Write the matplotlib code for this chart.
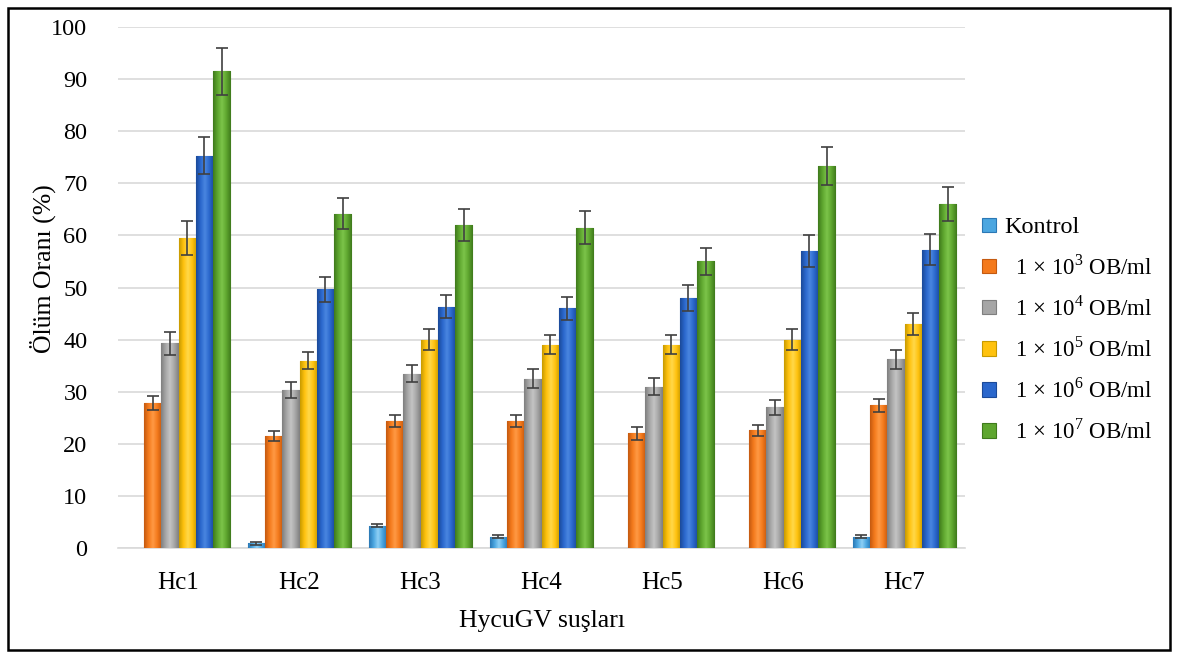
import numpy as np
import matplotlib.pyplot as plt
from matplotlib.patches import Rectangle
from matplotlib.colors import LinearSegmentedColormap

plt.rcParams['font.family'] = ['Liberation Serif', 'DejaVu Serif']
plt.rcParams['mathtext.fontset'] = 'custom'
plt.rcParams['mathtext.rm'] = 'Liberation Serif'

# strains on the x axis
strains = ['Hc1', 'Hc2', 'Hc3', 'Hc4', 'Hc5', 'Hc6', 'Hc7']

# mortality (%) per dose, nan = no bar
kontrol = [np.nan, 0.9, 4.3, 2.2, np.nan, np.nan, 2.2]
d3 = [27.8, 21.5, 24.4, 24.4, 22.0, 22.6, 27.4]
d4 = [39.3, 30.3, 33.5, 32.5, 31.0, 27.0, 36.2]
d5 = [59.5, 36.0, 40.0, 39.0, 39.0, 40.0, 43.0]
d6 = [75.3, 49.7, 46.3, 46.0, 48.0, 57.0, 57.3]
d7 = [91.5, 64.2, 62.0, 61.5, 55.0, 73.3, 66.0]

# error (+/-)
kontrol_err = [0, 0.3, 0.3, 0.3, 0, 0, 0.3]
d3_err = [1.3, 1.0, 1.1, 1.1, 1.2, 1.1, 1.2]
d4_err = [2.2, 1.5, 1.7, 1.8, 1.7, 1.4, 1.8]
d5_err = [3.2, 1.6, 2.0, 1.8, 1.8, 2.0, 2.2]
d6_err = [3.6, 2.4, 2.2, 2.2, 2.5, 3.0, 3.0]
d7_err = [4.5, 3.0, 3.0, 3.2, 2.5, 3.7, 3.2]

labels = ['Kontrol',
          r'  1 × 10$^{\mathrm{3}}$ OB/ml',
          r'  1 × 10$^{\mathrm{4}}$ OB/ml',
          r'  1 × 10$^{\mathrm{5}}$ OB/ml',
          r'  1 × 10$^{\mathrm{6}}$ OB/ml',
          r'  1 × 10$^{\mathrm{7}}$ OB/ml']
colors = ['#4ba6e0', '#f47a1c', '#a6a6a6', '#ffc20e', '#2a67cc', '#5ea62f']
lights = ['#8fd0f5', '#ff9a45', '#c4c4c4', '#ffd84a', '#4a86e0', '#7cc44a']
edges = ['#2b78b5', '#c45a10', '#7f7f7f', '#c79a00', '#1b4a99', '#3f7a1c']

series = [kontrol, d3, d4, d5, d6, d7]
errs = [kontrol_err, d3_err, d4_err, d5_err, d6_err, d7_err]

fig = plt.figure(figsize=(11.78, 6.58), dpi=100)
ax = fig.add_axes([0.1002, 0.167, 0.719, 0.792])

x = np.arange(len(strains))
w = 0.143
grad = np.linspace(0, 1, 64).reshape(1, -1)
for i, (vals, e) in enumerate(zip(series, errs)):
    pos = x + (i - 2.5) * w
    bars = ax.bar(pos, vals, w, color=colors[i], edgecolor=edges[i], linewidth=0.8,
                  label=labels[i], zorder=3)
    # soft cylinder-like shading, like the office chart style
    cmap = LinearSegmentedColormap.from_list(
        'b%d' % i, [edges[i], colors[i], lights[i], colors[i], edges[i]])
    for b in bars:
        h = b.get_height()
        if not np.isfinite(h) or h <= 0:
            continue
        x0 = b.get_x()
        im = ax.imshow(grad, extent=[x0, x0 + w, 0, h], cmap=cmap,
                       aspect='auto', zorder=3.5, interpolation='bilinear')
        im.set_clip_path(b)
    ok = [j for j in range(len(vals)) if np.isfinite(vals[j]) and e[j] > 0]
    ax.errorbar(pos[ok], np.array(vals)[ok], yerr=np.array(e)[ok], fmt='none',
                ecolor='#404040', elinewidth=1.2, capsize=4, capthick=1.2, zorder=4)

ax.set_xlim(-0.5, 6.5)
ax.set_ylim(0, 100)
ax.set_yticks(range(0, 101, 10))
ax.set_xticks(x)
ax.set_xticklabels(strains)
ax.tick_params(axis='both', length=0, colors='black')
ax.tick_params(axis='x', pad=17, labelsize=18)
ax.tick_params(axis='y', pad=22, labelsize=17.5)
ax.grid(axis='y', color='#d9d9d9', linewidth=1.2, zorder=0)
for s in ['top', 'right', 'left']:
    ax.spines[s].set_visible(False)
ax.spines['bottom'].set_color('#d9d9d9')
ax.spines['bottom'].set_linewidth(1.2)

ax.set_ylabel('Ölüm Oranı (%)', fontsize=18.5)
ax.yaxis.set_label_coords(-0.073, 0.537)
ax.set_xlabel('HycuGV suşları', fontsize=18.5, labelpad=12)

leg = fig.legend(loc='center left', bbox_to_anchor=(0.826, 0.498), frameon=False,
                 fontsize=16.5, handlelength=0.6, handleheight=0.6,
                 handletextpad=0.35, labelspacing=0.72, borderaxespad=0)
leg.get_texts()[0].set_fontsize(17.5)

# outer frame around the whole picture
fig.patches.append(Rectangle((8 / 1178, 8 / 658), 1162 / 1178, 642 / 658,
                             transform=fig.transFigure, fill=False,
                             edgecolor='black', linewidth=1.8))

fig.savefig('out.png', dpi=100)
